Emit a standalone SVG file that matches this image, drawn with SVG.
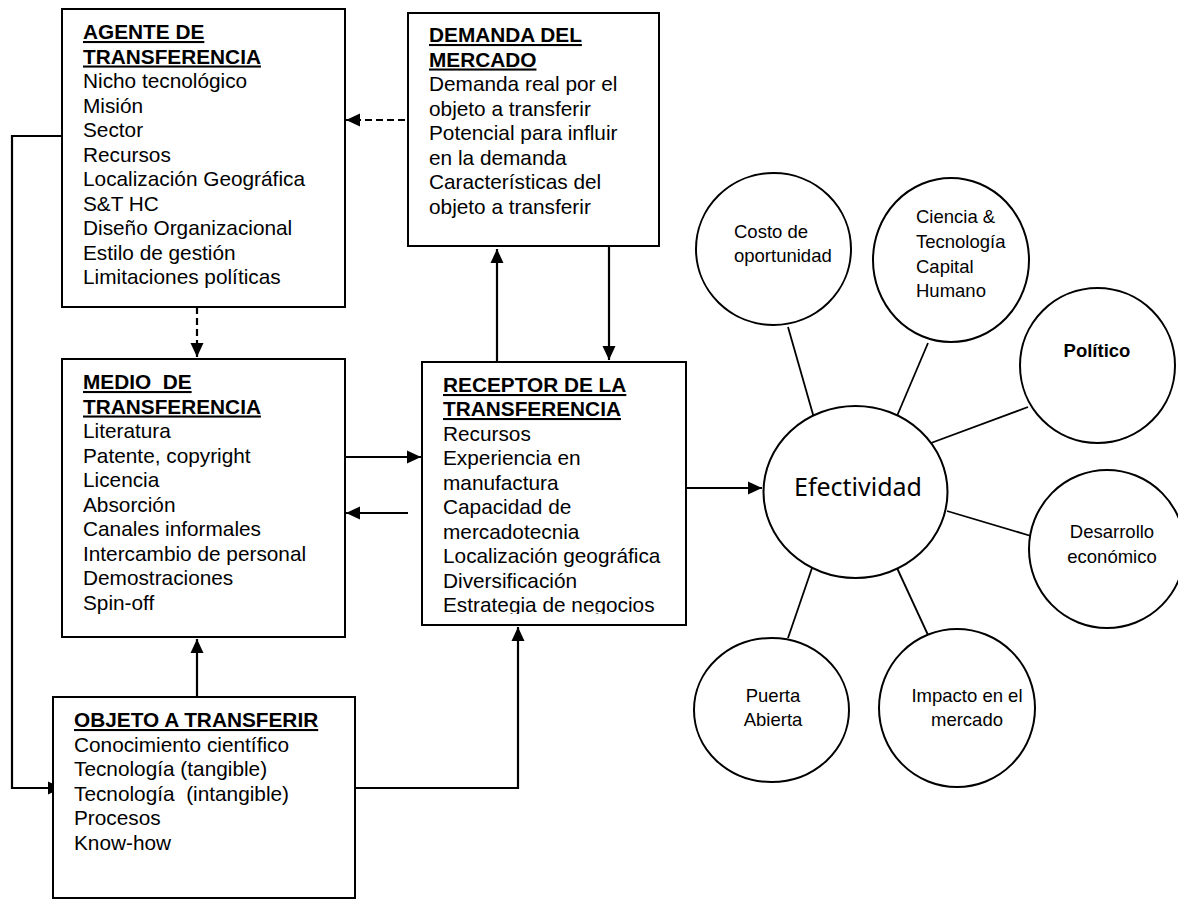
<svg xmlns="http://www.w3.org/2000/svg" width="1178" height="899" viewBox="0 0 1178 899">
<style>
.box{fill:#fff;stroke:#000;stroke-width:2}
.t{font-family:"Liberation Sans",Arial,sans-serif;font-size:20.8px;fill:#000}
.h{font-weight:bold;text-decoration:underline}
.c{font-family:"Liberation Sans",Arial,sans-serif;font-size:18.5px;fill:#000}
.ln{fill:none;stroke:#000;stroke-width:2.2}
.ds{stroke-dasharray:7,4}
.cl{fill:#fff;stroke:#000;stroke-width:2}
.sp{fill:none;stroke:#000;stroke-width:1.8}
</style>
<defs>
<marker id="ah" viewBox="0 0 14 14" refX="14" refY="7" markerWidth="14" markerHeight="14" markerUnits="userSpaceOnUse" orient="auto">
<path d="M0,0.5 L14,7 L0,13.5 z" fill="#000"/>
</marker>
<clipPath id="rc"><rect x="422" y="362" width="264" height="252"/></clipPath>
</defs>
<rect width="1178" height="899" fill="#fff"/>

<g id="connectors">
<path class="ln" d="M62,136 H12 V788 H62" marker-end="url(#ah)"/>
<path class="ln ds" d="M405,120 H346" marker-end="url(#ah)"/>
<path class="ln ds" d="M197,307 V357" marker-end="url(#ah)"/>
<path class="ln" d="M497,362 V249" marker-end="url(#ah)"/>
<path class="ln" d="M609,246 V360" marker-end="url(#ah)"/>
<path class="ln" d="M345,457 H421" marker-end="url(#ah)"/>
<path class="ln" d="M408,513 H346" marker-end="url(#ah)"/>
<path class="ln" d="M197,697 V639" marker-end="url(#ah)"/>
<path class="ln" d="M355,788 H518 V627" marker-end="url(#ah)"/>
<path class="ln" d="M686,488 H762" marker-end="url(#ah)"/>
<path class="sp" d="M788,327 L814,418"/>
<path class="sp" d="M928,343 L897,416"/>
<path class="sp" d="M1028,407 L931,443"/>
<path class="sp" d="M947,511 L1031,536"/>
<path class="sp" d="M812,568 L788,638"/>
<path class="sp" d="M897,568 L928,635"/>
</g>

<g id="agente">
<rect class="box" x="62" y="9" width="283" height="298"/>
<text class="t h" x="83" y="39">AGENTE DE</text>
<text class="t h" x="83" y="63.5">TRANSFERENCIA</text>
<text class="t" x="83" y="88">Nicho tecnológico</text>
<text class="t" x="83" y="112.5">Misión</text>
<text class="t" x="83" y="137">Sector</text>
<text class="t" x="83" y="161.5">Recursos</text>
<text class="t" x="83" y="186">Localización Geográfica</text>
<text class="t" x="83" y="210.5">S&amp;T HC</text>
<text class="t" x="83" y="235">Diseño Organizacional</text>
<text class="t" x="83" y="259.5">Estilo de gestión</text>
<text class="t" x="83" y="284">Limitaciones políticas</text>
</g>

<g id="demanda">
<rect class="box" x="408" y="13" width="251" height="233"/>
<text class="t h" x="429" y="42">DEMANDA DEL</text>
<text class="t h" x="429" y="66.5">MERCADO</text>
<text class="t" x="429" y="91">Demanda real por el</text>
<text class="t" x="429" y="115.5">objeto a transferir</text>
<text class="t" x="429" y="140">Potencial para influir</text>
<text class="t" x="429" y="164.5">en la demanda</text>
<text class="t" x="429" y="189">Características del</text>
<text class="t" x="429" y="213.5">objeto a transferir</text>
</g>

<g id="medio">
<rect class="box" x="62" y="359" width="283" height="278"/>
<text class="t h" x="83" y="389">MEDIO&#160; DE</text>
<text class="t h" x="83" y="413.5">TRANSFERENCIA</text>
<text class="t" x="83" y="438">Literatura</text>
<text class="t" x="83" y="462.5">Patente, copyright</text>
<text class="t" x="83" y="487">Licencia</text>
<text class="t" x="83" y="511.5">Absorción</text>
<text class="t" x="83" y="536">Canales informales</text>
<text class="t" x="83" y="560.5">Intercambio de personal</text>
<text class="t" x="83" y="585">Demostraciones</text>
<text class="t" x="83" y="609.5">Spin-off</text>
</g>

<g id="receptor">
<rect class="box" x="422" y="362" width="264" height="263"/>
<g clip-path="url(#rc)">
<text class="t h" x="443" y="392">RECEPTOR DE LA</text>
<text class="t h" x="443" y="416">TRANSFERENCIA</text>
<text class="t" x="443" y="440.5">Recursos</text>
<text class="t" x="443" y="465">Experiencia en</text>
<text class="t" x="443" y="489.5">manufactura</text>
<text class="t" x="443" y="514">Capacidad de</text>
<text class="t" x="443" y="538.5">mercadotecnia</text>
<text class="t" x="443" y="563">Localización geográfica</text>
<text class="t" x="443" y="587.5">Diversificación</text>
<text class="t" x="443" y="612">Estrategia de negocios</text>
</g>
</g>

<g id="objeto">
<rect class="box" x="53" y="697" width="302" height="201"/>
<text class="t h" x="74" y="727">OBJETO A TRANSFERIR</text>
<text class="t" x="74" y="751.5">Conocimiento científico</text>
<text class="t" x="74" y="776">Tecnología (tangible)</text>
<text class="t" x="74" y="800.5" xml:space="preserve">Tecnología  (intangible)</text>
<text class="t" x="74" y="825">Procesos</text>
<text class="t" x="74" y="849.5">Know-how</text>
</g>

<g id="efectividad">
<ellipse class="cl" cx="855.5" cy="492" rx="92" ry="86"/>
<text x="858" y="496" text-anchor="middle" font-family="'Noto Sans','Open Sans',sans-serif" font-size="25">Efectividad</text>
</g>

<g id="costo">
<ellipse class="cl" cx="773.5" cy="249" rx="77.5" ry="76"/>
<text class="c" x="734" y="238">Costo de</text>
<text class="c" x="734" y="262">oportunidad</text>
</g>

<g id="ciencia">
<ellipse class="cl" cx="951" cy="260" rx="78" ry="82"/>
<text class="c" x="916" y="223">Ciencia &amp;</text>
<text class="c" x="916" y="248">Tecnología</text>
<text class="c" x="916" y="273">Capital</text>
<text class="c" x="916" y="297">Humano</text>
</g>

<g id="politico">
<circle class="cl" cx="1097.5" cy="365.5" r="77.5"/>
<text class="c" x="1097" y="357" text-anchor="middle" font-weight="bold">Político</text>
</g>

<g id="desarrollo">
<ellipse class="cl" cx="1107" cy="549" rx="78" ry="79"/>
<text class="c" x="1112" y="538" text-anchor="middle">Desarrollo</text>
<text class="c" x="1112" y="563" text-anchor="middle">económico</text>
</g>

<g id="puerta">
<ellipse class="cl" cx="771.5" cy="710" rx="77.5" ry="72"/>
<text class="c" x="773" y="702" text-anchor="middle">Puerta</text>
<text class="c" x="773" y="726" text-anchor="middle">Abierta</text>
</g>

<g id="impacto">
<ellipse class="cl" cx="957" cy="708" rx="78" ry="79"/>
<text class="c" x="967" y="702" text-anchor="middle">Impacto en el</text>
<text class="c" x="967" y="726" text-anchor="middle">mercado</text>
</g>
</svg>
